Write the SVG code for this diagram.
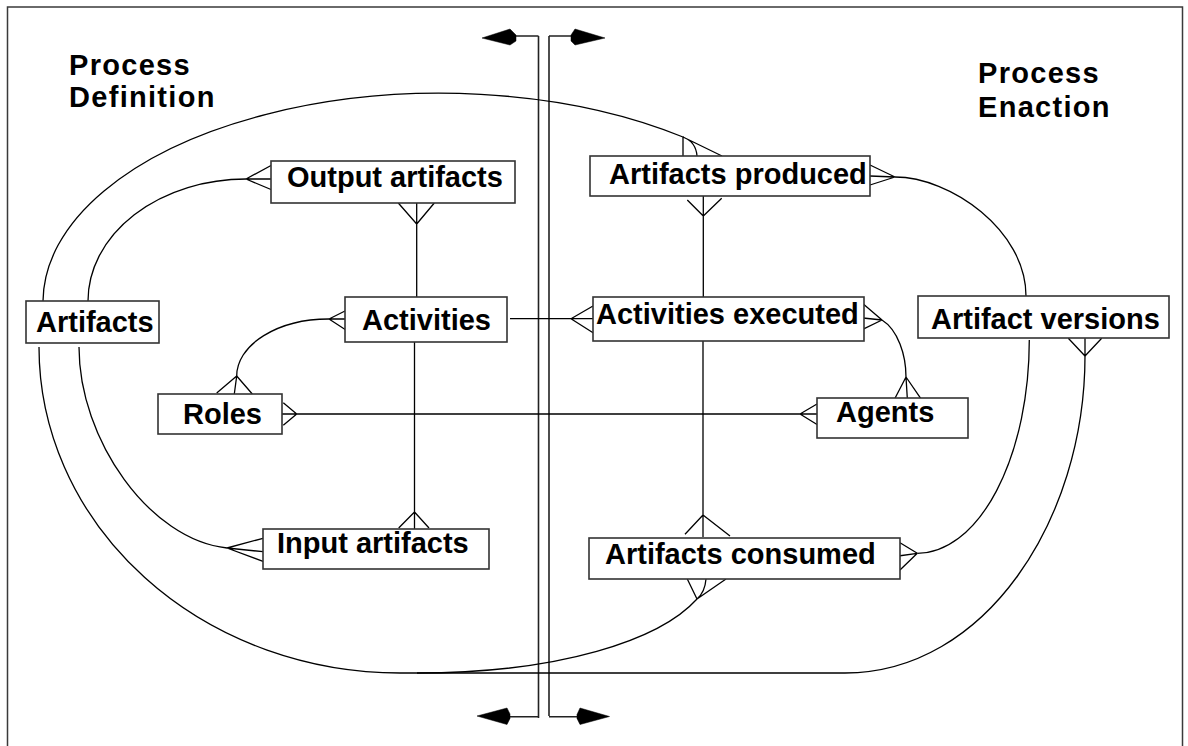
<svg xmlns="http://www.w3.org/2000/svg" width="1188" height="746" viewBox="0 0 1188 746">
<style>
.frame{fill:none;stroke:#3a3a3a;stroke-width:1.5}
.box rect{fill:#fff;stroke:#333;stroke-width:1.6}
.box text,.title{font-family:"Liberation Sans",Arial,Helvetica,sans-serif;font-weight:bold;font-size:29px;fill:#000}
.title{letter-spacing:1.3px}
#connectors path{fill:none;stroke:#000;stroke-width:1.3}
#divider path.div{fill:none;stroke:#222;stroke-width:1.6}
#divider path.arrow{fill:#000;stroke:#000;stroke-width:0.5}
</style>
<rect class="frame" x="7.5" y="7" width="1175" height="770"/>

<g id="titles">
<text class="title" x="69" y="75">Process</text>
<text class="title" x="69" y="107">Definition</text>
<text class="title" x="978" y="83">Process</text>
<text class="title" x="978" y="117">Enaction</text>
</g>

<g id="divider">
<path class="div" d="M538.5,36 L538.5,718 M549,36 L549,716 M516,36 L538.5,36 M549,36 L571,36 M510,716.7 L538.5,716.7 M549,716.7 L577,716.7"/>
<path class="arrow" d="M482,38 L510,29 L516,35 L516,41 L510,45 Z"/>
<path class="arrow" d="M605,38 L575,29 L571,35 L571,41 L575,45 Z"/>
<path class="arrow" d="M477,716 L507,708 L510,714 L510,718.5 L507,724.5 Z"/>
<path class="arrow" d="M609.5,716.5 L580,708 L577,714.5 L577,718.5 L580,724.5 Z"/>
</g>

<g id="connectors">
<path d="M43,301 A397,209 0 0 1 683,137"/>
<path d="M683,137 L683,156 M683,137 Q696,142 697,156 M683,137 L722,156"/>
<path d="M88,301 A158,122 0 0 1 246,179"/>
<path d="M246,179 L271,165.5 M246,179 L275,179 M246,179 L271,189.5"/>
<path d="M416.7,224 L398.3,203 M416.7,224 L416.7,203 M416.7,224 L434.3,203 M416.7,224 L416.7,297"/>
<path d="M414.5,342 L414.5,512 M414.5,512 L398.7,528 M414.5,512 L414.5,529 M414.5,512 L429,528"/>
<path d="M236.7,376 A92,57 0 0 1 329,319"/>
<path d="M329,319 L347,310 M329,319 L345,319 M329,319 L349,332"/>
<path d="M236.7,376 L216.7,393 M236.7,376 L234.3,394 M236.7,376 L252.3,394"/>
<path d="M510,318.7 L571,318.7 M571,318.7 L593,306 M571,318.7 L593,318.7 M571,318.7 L595,334"/>
<path d="M282,414 L817,414 M283.3,402.7 L296.7,414 L283.3,425.3 M800,414 L817,404 M800,414 L817,424.5"/>
<path d="M79,347 C79,440 150,540 227,548"/>
<path d="M227,548 L263,538.3 M227,548 L263,551.7 M227,548 L265.7,562.3"/>
<path d="M39,347 A361,326 0 0 0 400,673 L845,673 C985,673 1085,520 1085,356"/>
<path d="M1085,356 L1068.3,338.3 M1085,356 L1085,338.3 M1085,356 L1101.7,338.3"/>
<path d="M697,599 C660,640 560,673 417,673"/>
<path d="M687.3,579 L697,599 M706,579 Q705,592 697,599 M726,579 L697,599"/>
<path d="M703.3,216 L687.3,200 M703.3,216 L703.3,196 M703.3,216 L721.7,198.3 M703.3,216 L703.3,297"/>
<path d="M703,341 L703,515 M703,515 L685,534.3 M703,515 L703,537 M703,515 L730,536"/>
<path d="M882,320 C898,330 906,355 906,377"/>
<path d="M863.3,304 L882,320 M863,318 L882,320 M862.7,329.3 L882,320"/>
<path d="M906,377 L895,398.3 M906,377 L907.3,398.3 M906,377 L920.7,398.3"/>
<path d="M895,177 C950,177 1026,230 1026,296"/>
<path d="M870,165 L895,177 M870,176 L895,177 M870,185 L895,177"/>
<path d="M917.3,553.3 A112,213.3 0 0 0 1029.3,340"/>
<path d="M900,542.7 L917.3,553.3 M898.3,556 L917.3,553.3 M900,570 L917.3,553.3"/>
</g>

<g id="output-artifacts" class="box"><rect x="271" y="161" width="244" height="42"/><text x="287" y="187">Output artifacts</text></g>
<g id="activities" class="box"><rect x="345" y="297" width="162" height="45"/><text x="362" y="330">Activities</text></g>
<g id="artifacts" class="box"><rect x="26" y="301" width="133" height="42"/><text x="36" y="332">Artifacts</text></g>
<g id="roles" class="box"><rect x="158" y="394" width="124" height="40"/><text x="183" y="424">Roles</text></g>
<g id="input-artifacts" class="box"><rect x="263" y="529" width="226" height="40"/><text x="277" y="553">Input artifacts</text></g>
<g id="artifacts-produced" class="box"><rect x="590" y="156" width="280" height="40"/><text x="609" y="184">Artifacts produced</text></g>
<g id="activities-executed" class="box"><rect x="593" y="297" width="271" height="44"/><text x="596" y="324">Activities executed</text></g>
<g id="agents" class="box"><rect x="817" y="398" width="151" height="40"/><text x="836" y="422">Agents</text></g>
<g id="artifact-versions" class="box"><rect x="918" y="296" width="251" height="42"/><text x="931" y="329">Artifact versions</text></g>
<g id="artifacts-consumed" class="box"><rect x="589" y="538" width="311" height="41"/><text x="605" y="564">Artifacts consumed</text></g>
</svg>
